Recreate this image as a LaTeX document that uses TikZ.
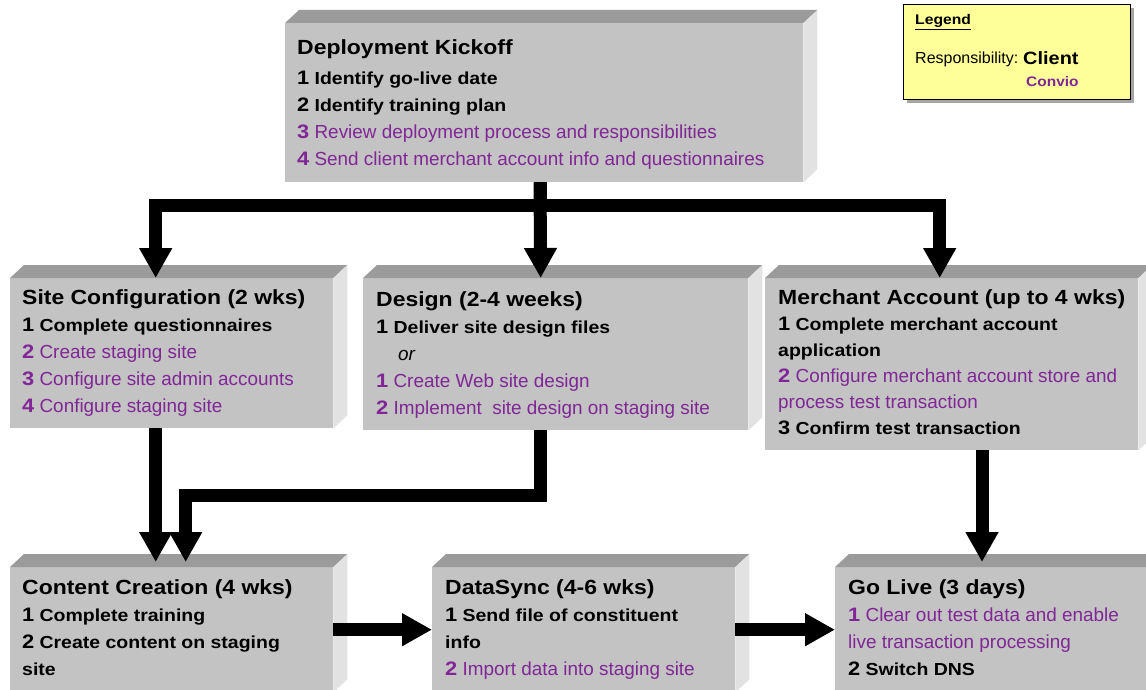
\documentclass[tikz,border=0pt]{standalone}
\usepackage{fontspec}
\setmainfont{Liberation Sans}
\newfontfamily\widesans[FakeStretch=1.12]{Liberation Sans}
\usetikzlibrary{arrows.meta,shadows,positioning}

\definecolor{convio}{RGB}{128,38,150}
\definecolor{facegray}{RGB}{195,195,195}
\definecolor{topgray}{RGB}{155,155,155}
\definecolor{sidegray}{RGB}{226,226,226}
\definecolor{legendyellow}{RGB}{255,255,153}

% client task (bold black) and Convio task (purple)
\newcommand{\clientitem}[2]{{\widesans\fontsize{19.5}{27}\selectfont\bfseries #1}\ {\widesans\fontsize{17.4}{27}\selectfont\bfseries #2}}
\newcommand{\convioitem}[2]{{\widesans\fontsize{19.5}{27}\selectfont\bfseries\color{convio}#1}\ {\color{convio}#2}}
\newcommand{\clientcont}[1]{{\widesans\fontsize{17.4}{27}\selectfont\bfseries #1}}
\newcommand{\stagetitle}[1]{{\widesans\fontsize{20.5}{27}\selectfont\bfseries #1}}
% top and side faces of a stage box
\newcommand{\bevel}[1]{%
  \fill[topgray] (#1.north west) -- ++(14,-13) -- ([shift={(14,-13)}]#1.north east) -- (#1.north east) -- cycle;
  \fill[sidegray] (#1.north east) -- ++(14,-13) -- ([shift={(14,-13)}]#1.south east) -- (#1.south east) -- cycle;}

\begin{document}
\begin{tikzpicture}[x=1pt, y=-1pt,
    stage/.style={rectangle, fill=facegray, inner sep=0pt, anchor=north west},
    stagetext/.style={anchor=north west, inner sep=0pt, align=left, font=\fontsize{18.9}{27}\selectfont},
    flow/.style={line width=13pt, -{Triangle[width=31pt,length=30pt]}}]
	\clip (0,0) rectangle (1146,690);

	% stage boxes
	\node[stage, minimum width=518pt, minimum height=159pt](kick) at (285,23){};
	\node[stage, minimum width=323pt, minimum height=150pt](siteconf) at (10,278){};
	\node[stage, minimum width=385pt, minimum height=152pt](design) at (363,278){};
	\node[stage, minimum width=373pt, minimum height=172pt](merchant) at (765,278){};
	\node[stage, minimum width=323pt, minimum height=125pt](content) at (10,567){};
	\node[stage, minimum width=303pt, minimum height=125pt](datasync) at (432,567){};
	\node[stage, minimum width=320pt, minimum height=125pt](golive) at (835,567){};
	\bevel{kick} \bevel{siteconf} \bevel{design} \bevel{merchant}
	\bevel{content} \bevel{datasync} \bevel{golive}

	% stage texts
	\node[stagetext](kickText) at (297,39){\stagetitle{Deployment Kickoff}\\[3pt]
		\clientitem{1}{Identify go-live date}\\
		\clientitem{2}{Identify training plan}\\
		\convioitem{3}{Review deployment process and responsibilities}\\
		\convioitem{4}{Send client merchant account info and questionnaires}};
	\node[stagetext](siteconfText) at (22,289){\stagetitle{Site Configuration (2 wks)}\\
		\clientitem{1}{Complete questionnaires}\\
		\convioitem{2}{Create staging site}\\
		\convioitem{3}{Configure site admin accounts}\\
		\convioitem{4}{Configure staging site}};
	\node[stagetext](designText) at (376,291){\stagetitle{Design (2-4 weeks)}\\
		\clientitem{1}{Deliver site design files}\\
		\hspace*{22pt}\textit{or}\\
		\convioitem{1}{Create Web site design}\\
		\convioitem{2}{Implement\ \ site design on staging site}};
	\node[stagetext](merchantText) at (778,289){\stagetitle{Merchant Account (up to 4 wks)}\\[-1pt]
		\clientitem{1}{Complete merchant account}\\[-1pt]
		\clientcont{application}\\[-1pt]
		\convioitem{2}{Configure merchant account store and}\\[-1pt]
		{\color{convio}process test transaction}\\[-1pt]
		\clientitem{3}{Confirm test transaction}};
	\node[stagetext](contentText) at (22,579){\stagetitle{Content Creation (4 wks)}\\
		\clientitem{1}{Complete training}\\
		\clientitem{2}{Create content on staging}\\
		\clientcont{site}};
	\node[stagetext](datasyncText) at (445,579){\stagetitle{DataSync (4-6 wks)}\\
		\clientitem{1}{Send file of constituent}\\
		\clientcont{info}\\
		\convioitem{2}{Import data into staging site}};
	\node[stagetext](goliveText) at (848,579){\stagetitle{Go Live (3 days)}\\
		\convioitem{1}{Clear out test data and enable}\\
		{\color{convio}live transaction processing}\\
		\clientitem{2}{Switch DNS}};

	% legend
	\node[rectangle, fill=legendyellow, draw=black, line width=0.8pt, anchor=north west, minimum width=227pt, minimum height=95pt,
		drop shadow={shadow xshift=4pt, shadow yshift=-4pt, fill=gray!70, opacity=1}](legend) at (903,4){};
	\node[anchor=west, inner sep=0pt, font=\widesans\fontsize{14}{16}\selectfont\bfseries](legendTitle) at (915,22){\underline{Legend}};
	\node[anchor=west, inner sep=0pt, font=\fontsize{16}{18}\selectfont](legendResp) at (915,59){Responsibility:};
	\node[anchor=west, inner sep=0pt, font=\widesans\fontsize{17.8}{19}\selectfont\bfseries](legendClient) at (1023,58){Client};
	\node[anchor=west, inner sep=0pt, font=\widesans\fontsize{13.8}{16}\selectfont\bfseries, text=convio](legendConvio) at (1026,82){Convio};

	% draw flow arrows
	\coordinate (split) at (540,205);
	\coordinate (designTurn) at (540,495);
	\coordinate (merchantDrop) at (982,0);
	\draw[flow] (kick.south -| split) -- (split) -| ([xshift=-16pt]siteconf.north);
	\draw[flow] (kick.south -| split) -- ([xshift=-15pt]design.north);
	\draw[flow] (kick.south -| split) -- (split) -| ([xshift=-12pt]merchant.north);

	\draw[flow] ([xshift=-16pt]siteconf.south) -- ([xshift=-16pt,yshift=5pt]content.north);
	\draw[flow] (design.south -| designTurn) -- (designTurn) -| ([xshift=14pt,yshift=5pt]content.north);
	\draw[flow] (merchant.south -| merchantDrop) -- ([yshift=5pt]golive.north -| merchantDrop);

	\draw[flow] (content.east) -- (content.east -| datasync.west);
	\draw[flow] (datasync.east) -- (datasync.east -| golive.west);
\end{tikzpicture}
\end{document}
